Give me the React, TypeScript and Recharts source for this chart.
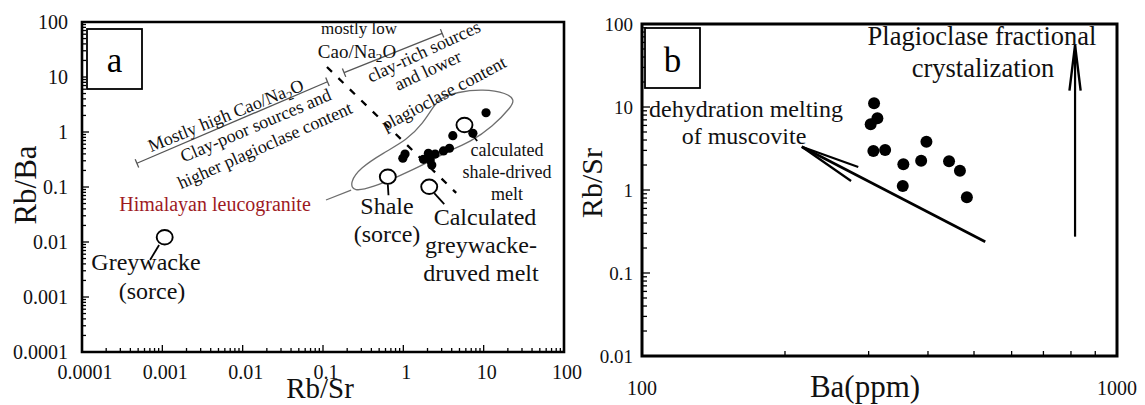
import React from "react";
import { ScatterChart, Scatter, XAxis, YAxis, ReferenceArea } from "recharts";

const SERIF = '"Liberation Serif", "Times New Roman", serif';

// ---------- panel a : Rb/Sr vs Rb/Ba ----------
const decadesA = [0.0001, 0.001, 0.01, 0.1, 1, 10, 100];
const decadeLabelsA = ["0.0001", "0.001", "0.01", "0.1", "1", "10", "100"];

// Himalayan leucogranite samples
const leucoRbSr = [10.7, 7.34, 4.13, 3.75, 3.16, 2.49, 2.05, 2.16, 1.78, 2.26, 1.05, 0.986];
const leucoRbBa = [2.24, 0.946, 0.857, 0.506, 0.452, 0.398, 0.41, 0.31, 0.319, 0.251, 0.398, 0.333];

// sources and calculated melts (open circles)
const sourceNames = ["greywacke", "shale", "greywackeMelt", "shaleMelt"];
const sourceRbSr = [0.00107, 0.641, 2.1, 5.77];
const sourceRbBa = [0.0122, 0.154, 0.101, 1.34];

// outline of the leucogranite field
const fieldRbSr = [24.0, 22.6, 12.8, 6.79, 3.83, 1.98, 0.838, 0.421, 0.237, 0.217, 0.29, 0.56, 1.11, 1.77, 2.35, 2.87, 4.68, 9.86, 19.6];
const fieldRbBa = [3.82, 2.97, 1.23, 0.658, 0.471, 0.273, 0.152, 0.1, 0.081, 0.123, 0.222, 0.415, 0.716, 1.46, 2.85, 4.15, 5.34, 6.05, 5.12];
const fieldLeaderRbSr = [0.224, 0.109];
const fieldLeaderRbBa = [0.088, 0.058];

// dashed boundary between the two source types
const boundaryRbSr = [0.112, 4.55];
const boundaryRbBa = [15.2, 0.078];

// bracket lines
const highCaoRbSr = [0.000483, 0.1137];
const highCaoRbBa = [0.27, 8.2];
const lowCaoRbSr = [0.183, 3.04];
const lowCaoRbBa = [11.97, 62.3];

// ---------- panel b : Ba vs Rb/Sr ----------
const baTicks = [100, 200, 300, 400, 500, 600, 700, 800, 900, 1000];
const baLabels = ["100", "", "", "", "", "", "", "", "", "1000"];
const decadesB = [0.01, 0.1, 1, 10, 100];
const decadeLabelsB = ["0.01", "0.1", "1", "10", "100"];

const sampleBa = [308, 313, 303, 307, 325, 397, 355, 387, 443, 467, 354, 483];
const sampleRbSr = [11.1, 7.31, 6.19, 2.95, 3.03, 3.82, 2.04, 2.25, 2.22, 1.71, 1.12, 0.817];

const muscoviteBa = [528, 217];
const muscoviteRbSr = [0.238, 3.32];
const plagBa = [816, 816];
const plagRbSr = [0.274, 55.8];

// ---------- helpers ----------
const pts = (xs: number[], ys: number[], names?: string[]) =>
  xs.map((x, i) => ({ x, y: ys[i], name: names ? names[i] : undefined }));

const minorSteps = [2, 3, 4, 5, 6, 7, 8, 9];
const withMinor = (decades: number[]) =>
  decades.flatMap((d, i) =>
    i < decades.length - 1 ? [d, ...minorSteps.map((k) => Number((d * k).toPrecision(6)))] : [d]
  );

const labelOf = (v: number, ticks: number[], labels: string[]) => {
  const i = ticks.findIndex((t) => Math.abs(v / t - 1) < 1e-6);
  return i >= 0 && labels[i] ? labels[i] : null;
};

const bottomTick =
  (ticks: number[], labels: string[], fs: number, dy: number, major: number, minor: number, dx = 0) =>
  (p: any) => {
    const lab = labelOf(p.payload.value, ticks, labels);
    const len = lab ? major : minor;
    return (
      <g>
        {len > 0 && <line x1={p.x} y1={p.y} x2={p.x} y2={p.y - len} stroke="#000" strokeWidth={1.3} />}
        {lab && (
          <text x={p.x + dx} y={p.y + dy} textAnchor="middle" fontSize={fs} fontFamily={SERIF} fill="#111">
            {lab}
          </text>
        )}
      </g>
    );
  };

const leftTick =
  (ticks: number[], labels: string[], fs: number, gap: number, dy: number, major: number, minor: number) =>
  (p: any) => {
    const lab = labelOf(p.payload.value, ticks, labels);
    const len = lab ? major : minor;
    return (
      <g>
        <line x1={p.x} y1={p.y} x2={p.x + len} y2={p.y} stroke="#000" strokeWidth={1.3} />
        {lab && (
          <text x={p.x - gap} y={p.y + dy} textAnchor="end" fontSize={fs} fontFamily={SERIF} fill="#111">
            {lab}
          </text>
        )}
      </g>
    );
  };

const none = () => <g />;
const dot = (r: number) => (p: any) => <circle cx={p.cx} cy={p.cy} r={r} fill="#000" />;

// leader stick of the open "lollipop" markers: [x1, y1, x2, y2] relative to centre
const leaders: Record<string, number[]> = {
  greywacke: [-5.6, 7.7, -14.6, 22.7],
  shale: [0, 7.5, 0.7, 18.5],
  greywackeMelt: [5, 6.3, 15, 17.3],
  shaleMelt: [4.7, 6, 12.7, 16],
};
const openShape = (p: any) => {
  const l = leaders[p.payload.name] || [0, 0, 0, 0];
  return (
    <g>
      <line x1={p.cx + l[0]} y1={p.cy + l[1]} x2={p.cx + l[2]} y2={p.cy + l[3]} stroke="#000" strokeWidth={1.8} />
      <ellipse cx={p.cx} cy={p.cy} rx={8} ry={7.2} fill="#fff" stroke="#000" strokeWidth={1.9} />
    </g>
  );
};

const capShape = (angle: number, half: number, color: string) => (p: any) => {
  const a = (angle * Math.PI) / 180;
  const nx = -Math.sin(a) * half;
  const ny = Math.cos(a) * half;
  return <line x1={p.cx - nx} y1={p.cy - ny} x2={p.cx + nx} y2={p.cy + ny} stroke={color} strokeWidth={1.3} />;
};

const headShape = (shaftAngle: number, spread: number, len: number, w: number) => (p: any) => {
  const a1 = ((shaftAngle + spread) * Math.PI) / 180;
  const a2 = ((shaftAngle - spread) * Math.PI) / 180;
  return (
    <path
      d={`M${p.cx + len * Math.cos(a1)},${p.cy + len * Math.sin(a1)} L${p.cx},${p.cy} L${p.cx + len * Math.cos(a2)},${p.cy + len * Math.sin(a2)}`}
      fill="none"
      stroke="#000"
      strokeWidth={w}
      strokeLinejoin="miter"
    />
  );
};

type Note = { t: React.ReactNode; x: number; y: number; fs: number; rot?: number; color?: string };

const sub2 = (before: string) => (
  <>
    {before}
    <tspan fontSize="0.7em" dy={4}>2</tspan>
    <tspan dy={-4}>O</tspan>
  </>
);

const notes: Note[] = [
  { t: "mostly low", x: 359, y: 29, fs: 17 },
  { t: sub2("Cao/Na"), x: 357, y: 52, fs: 19 },
  { t: sub2("Mostly high Cao/Na"), x: 226, y: 116, fs: 18, rot: -22 },
  { t: "Clay-poor sources and", x: 256, y: 126, fs: 18, rot: -23 },
  { t: "higher plagioclase content", x: 265, y: 146, fs: 18, rot: -24 },
  { t: "clay-rich sources", x: 424, y: 52, fs: 18, rot: -25 },
  { t: "and lower", x: 428, y: 71, fs: 18, rot: -25 },
  { t: "plagioclase content", x: 444, y: 94, fs: 18, rot: -28 },
  { t: "Himalayan leucogranite", x: 215, y: 205, fs: 20, color: "#9e1a1f" },
  { t: "Greywacke", x: 146, y: 263, fs: 24 },
  { t: "(sorce)", x: 152, y: 292, fs: 24 },
  { t: "Shale", x: 387, y: 207, fs: 24 },
  { t: "(sorce)", x: 387, y: 235, fs: 24 },
  { t: "Calculated", x: 485, y: 218, fs: 24 },
  { t: "greywacke-", x: 481, y: 246, fs: 24 },
  { t: "druved melt", x: 481, y: 274, fs: 24 },
  { t: "calculated", x: 507, y: 151, fs: 18 },
  { t: "shale-drived", x: 507, y: 173, fs: 18 },
  { t: "melt", x: 507, y: 195, fs: 18 },
  { t: "Rb/Sr", x: 320, y: 389.5, fs: 29 },
  { t: "Rb/Ba", x: 27, y: 185, fs: 31, rot: -90 },
  { t: "Plagioclase fractional", x: 982, y: 37, fs: 26.5 },
  { t: "crystalization", x: 983, y: 69, fs: 26.5 },
  { t: "dehydration melting", x: 746, y: 110, fs: 24 },
  { t: "of muscovite", x: 744, y: 137, fs: 24 },
  { t: "Ba(ppm)", x: 865, y: 388, fs: 31 },
  { t: "Rb/Sr", x: 593, y: 183, fs: 30, rot: -90 },
];

function Overlay() {
  return (
    <svg width={1145} height={405} style={{ position: "absolute", left: 0, top: 0, pointerEvents: "none" }}>
      <rect x={87} y={29} width={55} height={60} fill="#fff" stroke="#000" strokeWidth={1.8} />
      <text x={114.5} y={72} textAnchor="middle" fontSize={35} fontFamily={SERIF}>a</text>
      <rect x={645} y={28} width={55} height={60} fill="#fff" stroke="#000" strokeWidth={1.8} />
      <text x={672.5} y={72} textAnchor="middle" fontSize={35} fontFamily={SERIF}>b</text>
      {notes.map((n, i) => (
        <text
          key={i}
          x={n.x}
          y={n.y + n.fs * 0.3}
          textAnchor="middle"
          fontSize={n.fs}
          fontFamily={SERIF}
          fill={n.color || "#111"}
          transform={n.rot ? `rotate(${n.rot} ${n.x} ${n.y})` : undefined}
        >
          {n.t}
        </text>
      ))}
    </svg>
  );
}

function PanelA() {
  const ticks = withMinor(decadesA);
  return (
    <ScatterChart width={600} height={405} margin={{ top: 22, right: 36, bottom: 0, left: 0 }}>
      <XAxis
        type="number" dataKey="x" scale="log" domain={[0.0001, 100]} allowDataOverflow
        ticks={ticks} interval={0} height={53} tickSize={0} tickMargin={0} axisLine={false} tickLine={false}
        tick={bottomTick(decadesA, decadeLabelsA, 20, 27, 7, 4, 3)}
      />
      <YAxis
        type="number" dataKey="y" scale="log" domain={[0.0001, 100]} allowDataOverflow
        ticks={ticks} interval={0} width={82} tickSize={0} tickMargin={0} axisLine={false} tickLine={false}
        tick={leftTick(decadesA, decadeLabelsA, 20, 14, 7, 7, 4)}
      />
      <Scatter data={pts(fieldRbSr, fieldRbBa)} shape={none} line={{ stroke: "#6e6e6e", strokeWidth: 1.3, fill: "none" }} lineJointType="basisClosed" isAnimationActive={false} />
      <Scatter data={pts(fieldLeaderRbSr, fieldLeaderRbBa)} shape={none} line={{ stroke: "#6e6e6e", strokeWidth: 1.3 }} isAnimationActive={false} />
      <Scatter data={pts(highCaoRbSr, highCaoRbBa)} shape={capShape(-23, 4.5, "#555")} line={{ stroke: "#555", strokeWidth: 1.3 }} isAnimationActive={false} />
      <Scatter data={pts(lowCaoRbSr, lowCaoRbBa)} shape={capShape(-22, 4.5, "#555")} line={{ stroke: "#555", strokeWidth: 1.3 }} isAnimationActive={false} />
      <Scatter data={pts(boundaryRbSr, boundaryRbBa)} shape={none} line={{ stroke: "#000", strokeWidth: 2.3, strokeDasharray: "7 9" }} isAnimationActive={false} />
      <Scatter data={pts(leucoRbSr, leucoRbBa)} shape={dot(4.6)} isAnimationActive={false} />
      <Scatter data={pts(sourceRbSr, sourceRbBa, sourceNames)} shape={openShape} isAnimationActive={false} />
      <ReferenceArea x1={0.0001} x2={100} y1={0.0001} y2={100} fill="none" stroke="#000" strokeWidth={2.6} ifOverflow="visible" />
    </ScatterChart>
  );
}

function PanelB() {
  const yTicks = withMinor(decadesB);
  return (
    <ScatterChart width={565} height={405} margin={{ top: 24, right: 28, bottom: 0, left: 0 }}>
      <XAxis
        type="number" dataKey="x" scale="log" domain={[100, 1000]} allowDataOverflow
        ticks={baTicks} interval={0} height={49} tickSize={0} tickMargin={0} axisLine={false} tickLine={false}
        tick={bottomTick(baTicks, baLabels, 20, 39, 0, 5)}
      />
      <YAxis
        type="number" dataKey="y" scale="log" domain={[0.01, 100]} allowDataOverflow
        ticks={yTicks} interval={0} width={62} tickSize={0} tickMargin={0} axisLine={false} tickLine={false}
        tick={leftTick(decadesB, decadeLabelsB, 19, 9, 6.5, 8, 5)}
      />
      <Scatter data={pts(muscoviteBa, muscoviteRbSr)} shape={none} line={{ stroke: "#000", strokeWidth: 2.6 }} isAnimationActive={false} />
      <Scatter data={pts([muscoviteBa[1]], [muscoviteRbSr[1]])} shape={headShape(27.3, 7.5, 60, 2.2)} isAnimationActive={false} />
      <Scatter data={pts(plagBa, plagRbSr)} shape={none} line={{ stroke: "#000", strokeWidth: 2.2 }} isAnimationActive={false} />
      <Scatter data={pts([plagBa[1]], [plagRbSr[1]])} shape={headShape(90, 7, 46, 2.4)} isAnimationActive={false} />
      <Scatter data={pts(sampleBa, sampleRbSr)} shape={dot(6)} isAnimationActive={false} />
      <ReferenceArea x1={100} x2={1000} y1={0.01} y2={100} fill="none" stroke="#000" strokeWidth={3} ifOverflow="visible" />
    </ScatterChart>
  );
}

export default function App() {
  return (
    <div style={{ position: "absolute", left: 0, top: 0, width: 1145, height: 405, background: "#fff" }}>
      <style>{"body{margin:0;background:#fff}"}</style>
      <div style={{ position: "absolute", left: 0, top: 0 }}>
        <PanelA />
      </div>
      <div style={{ position: "absolute", left: 580, top: 0 }}>
        <PanelB />
      </div>
      <Overlay />
    </div>
  );
}
